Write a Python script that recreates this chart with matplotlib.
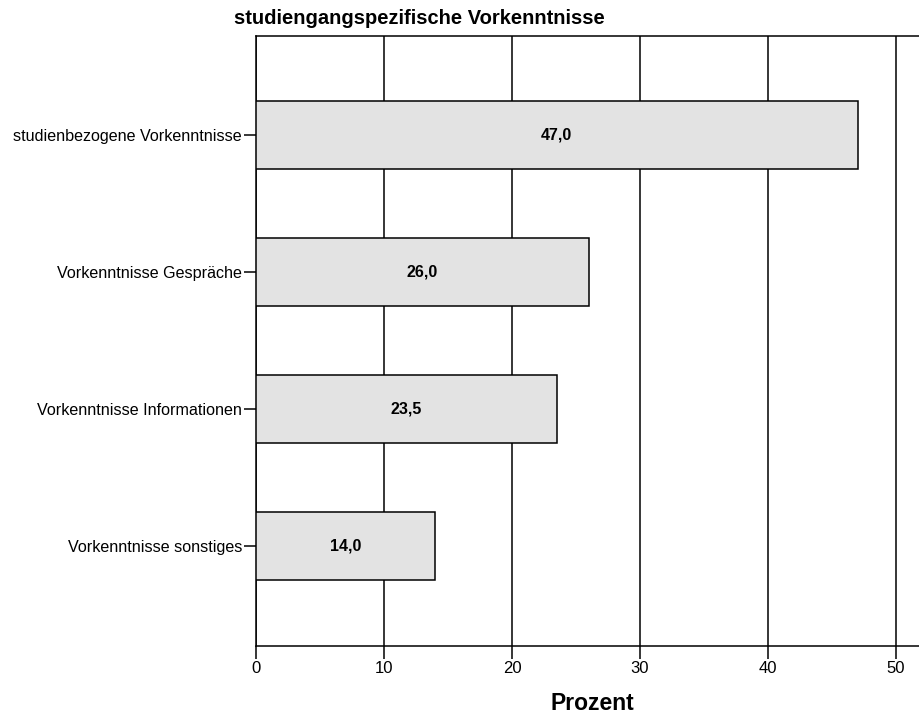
import matplotlib
matplotlib.use("Agg")
import matplotlib.pyplot as plt

categories = ["studienbezogene Vorkenntnisse", "Vorkenntnisse Gespräche",
              "Vorkenntnisse Informationen", "Vorkenntnisse sonstiges"]
values = [47.0, 26.0, 23.5, 14.0]
xticks = [0, 10, 20, 30, 40, 50]

plt.rcParams['font.family'] = ['Liberation Sans', 'DejaVu Sans']

W, H = 920, 714
fig = plt.figure(figsize=(W / 100, H / 100), dpi=100)
x0, x1 = 256, 256 + 12.8 * 55
y0, y1 = 645.5, 35.5
ax = fig.add_axes([x0 / W, 1 - y0 / H, (x1 - x0) / W, (y0 - y1) / H])

n = len(categories)
pos = list(range(n))[::-1]
ax.set_axisbelow(True)
ax.grid(axis='x', color='black', linewidth=1.1)
ax.barh(pos, values, height=0.5, color='#e3e3e3', edgecolor='black', linewidth=1.1, zorder=3)
for p, v in zip(pos, values):
    ax.text(v / 2, p, f"{v:.1f}".replace('.', ','), ha='center', va='center',
            fontsize=11.5, fontweight='bold', zorder=4)

ax.set_xlim(0, 55)
ax.set_ylim(-0.5 - 0.2245, n - 0.5 + 0.2245)
ax.set_xticks(xticks)
ax.set_xticklabels([str(t) for t in xticks], fontsize=12)
ax.set_yticks(pos)
ax.set_yticklabels(categories, fontsize=11.6)
ax.tick_params(axis='both', direction='out', length=9, width=1.1, pad=1)
ax.tick_params(axis='x', pad=2)
for s in ['top', 'left', 'bottom']:
    ax.spines[s].set_linewidth(1.1)
ax.spines['right'].set_visible(False)
ax.set_xlabel("Prozent", fontsize=16.5, fontweight='bold')
ax.xaxis.set_label_coords((592 - x0) / (x1 - x0), -(703 - y0) / (y0 - y1))
ax.xaxis.label.set_va('center')
fig.text(419 / W, 1 - 19 / H, "studiengangspezifische Vorkenntnisse", ha='center', va='center',
         fontsize=14.5, fontweight='bold')

fig.savefig("out.png", dpi=100)
